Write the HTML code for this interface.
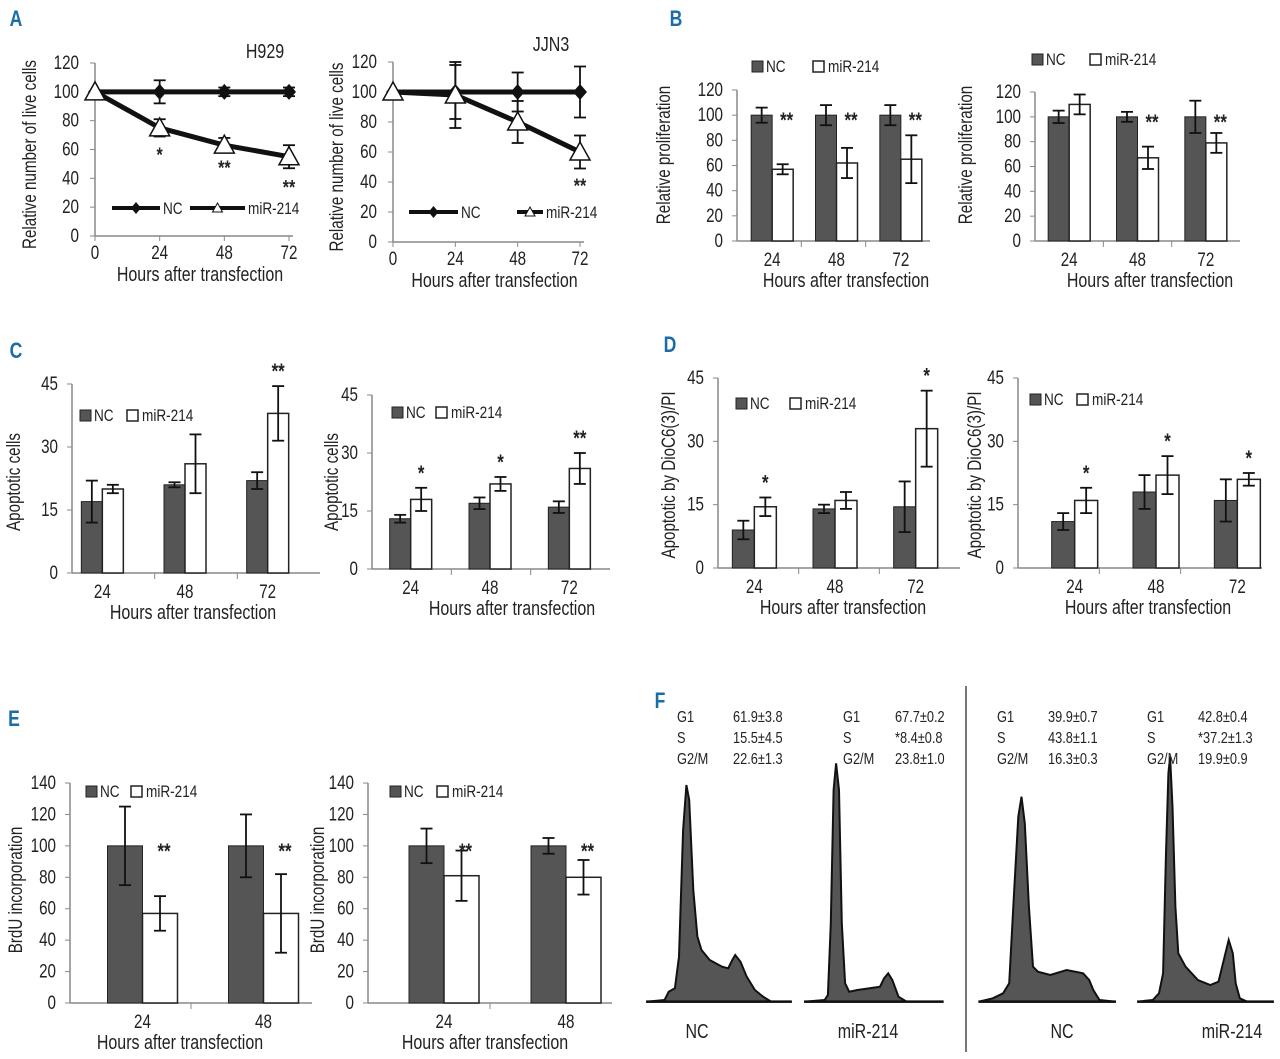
<!DOCTYPE html>
<html><head><meta charset="utf-8"><style>
html,body{margin:0;padding:0;background:#fff;width:1280px;height:1059px;overflow:hidden}
svg text{font-family:"Liberation Sans Narrow","Liberation Sans",sans-serif;fill:#222}
</style></head><body>
<svg id="fig" width="1280" height="1059" viewBox="0 0 1280 1059" xmlns="http://www.w3.org/2000/svg"></svg>
<script>
// ---- Panel A data ----
const aHours = [0, 24, 48, 72];
const aLeftNC = [100, 100, 100, 100];
const aLeftNCErr = [0, 8, 3, 3];
const aLeftMir = [100, 75, 63, 55];
const aLeftMirErr = [0, 6, 5, 8];
const aLeftStars = ["", "*", "**", "**"];
const aRightNC = [100, 100, 100, 100];
const aRightNCErr = [0, 18, 13, 17];
const aRightMir = [100, 98, 80, 60];
const aRightMirErr = [0, 22, 14, 11];
const aRightStars = ["", "", "", "**"];
const aTicks = [0, 20, 40, 60, 80, 100, 120];
// ---- Bar panels data ----
const hours3 = ["24", "48", "72"];
const hours2 = ["24", "48"];
const bLeftNC = [100, 100, 100], bLeftNCErr = [6, 8, 8];
const bLeftMir = [57, 62, 65], bLeftMirErr = [4, 12, 19];
const bLeftStars = ["**", "**", "**"];
const bRightNC = [100, 100, 100], bRightNCErr = [5, 4, 13];
const bRightMir = [110, 67, 79], bRightMirErr = [8, 9, 8];
const bRightStars = ["", "**", "**"];
const bTicks = [0, 20, 40, 60, 80, 100, 120];
const cLeftNC = [17, 21, 22], cLeftNCErr = [5, 0.6, 2];
const cLeftMir = [20, 26, 38], cLeftMirErr = [1, 7, 6.5];
const cLeftStars = ["", "", "**"];
const cRightNC = [13, 17, 16], cRightNCErr = [1, 1.5, 1.5];
const cRightMir = [18, 22, 26], cRightMirErr = [3, 1.8, 4];
const cRightStars = ["*", "*", "**"];
const dLeftNC = [9, 14, 14.5], dLeftNCErr = [2.2, 1, 6];
const dLeftMir = [14.5, 16, 33], dLeftMirErr = [2.2, 2, 9];
const dLeftStars = ["*", "", "*"];
const dRightNC = [11, 18, 16], dRightNCErr = [2, 4, 5];
const dRightMir = [16, 22, 21], dRightMirErr = [3, 4.5, 1.5];
const dRightStars = ["*", "*", "*"];
const cdTicks = [0, 15, 30, 45];
const eLeftNC = [100, 100], eLeftNCErr = [25, 20];
const eLeftMir = [57, 57], eLeftMirErr = [11, 25];
const eLeftStars = ["**", "**"];
const eRightNC = [100, 100], eRightNCErr = [11, 5];
const eRightMir = [81, 80], eRightMirErr = [16, 11];
const eRightStars = ["**", "**"];
const eTicks = [0, 20, 40, 60, 80, 100, 120, 140];

const svg = document.getElementById('fig');
const NS = 'http://www.w3.org/2000/svg';
const SX = 0.8;
function el(tag, attrs, parent, text) {
  const e = document.createElementNS(NS, tag);
  for (const k in attrs) e.setAttribute(k, attrs[k]);
  if (text !== undefined) e.textContent = text;
  (parent || svg).appendChild(e);
  return e;
}
function txt(x, y, s, size, anchor, parent, extra, rot) {
  const a = {x: 0, y: 0, 'font-size': size, 'text-anchor': anchor || 'middle'};
  a.transform = 'translate(' + x + ' ' + y + ')' + (rot ? ' rotate(' + rot + ')' : '') + ' scale(' + SX + ' 1)';
  if (extra) for (const k in extra) a[k] = extra[k];
  return el('text', a, parent, s);
}
function ylab(x, y, s, g) {
  const t = txt(x, y, s, 19, 'middle', g, null, -90);
  
  
}
function errBar(x, yv, ye, ys, g, cap) {
  const top = ys(yv + ye), bot = ys(Math.max(0, yv - ye));
  el('line', {x1: x, y1: top, x2: x, y2: bot, stroke: '#111', 'stroke-width': 1.8}, g);
  el('line', {x1: x - cap, y1: top, x2: x + cap, y2: top, stroke: '#111', 'stroke-width': 1.8}, g);
  el('line', {x1: x - cap, y1: bot, x2: x + cap, y2: bot, stroke: '#111', 'stroke-width': 1.8}, g);
}
[['A',16,26],['B',676,26],['C',16,358],['D',670,352],['E',14,726],['F',660,708]].forEach(p => {
  const t = txt(p[1], p[2], p[0], 22, 'middle', svg, {'font-weight': 'bold', style: 'fill:#1a6ea8'});
  
  
});

function lineChart(c) {
  const g = el('g', {});
  
  
  const xs = v => c.x0 + v / 72 * (c.x1 - c.x0);
  const ys = v => c.y0 - v / 120 * (c.y0 - c.y1);
  el('line', {x1: c.x0, y1: c.y1, x2: c.x0, y2: c.y0, stroke: '#888', 'stroke-width': 1.5}, g);
  el('line', {x1: c.x0, y1: c.y0, x2: c.x1 + 4, y2: c.y0, stroke: '#888', 'stroke-width': 1.5}, g);
  aTicks.forEach(t => {
    el('line', {x1: c.x0 - 5, y1: ys(t), x2: c.x0, y2: ys(t), stroke: '#888'}, g);
    txt(c.x0 - 16, ys(t) + 6, String(t), 19, 'end', g);
  });
  aHours.forEach(h => {
    el('line', {x1: xs(h), y1: c.y0, x2: xs(h), y2: c.y0 + 5, stroke: '#888'}, g);
    txt(xs(h), c.y0 + 23, String(h), 19, 'middle', g);
  });
  const ptsN = aHours.map((h, i) => xs(h) + ',' + ys(c.nc[i])).join(' ');
  const ptsM = aHours.map((h, i) => xs(h) + ',' + ys(c.mir[i])).join(' ');
  const ln = el('polyline', {points: ptsN, fill: 'none', stroke: '#111', 'stroke-width': 5}, g);
   
  const lm = el('polyline', {points: ptsM, fill: 'none', stroke: '#111', 'stroke-width': 5}, g);
   
  aHours.forEach((h, i) => {
    if (c.ncErr[i]) errBar(xs(h), c.nc[i], c.ncErr[i], ys, g, 6);
    if (c.mirErr[i]) errBar(xs(h), c.mir[i], c.mirErr[i], ys, g, 6);
    const x = xs(h), y = ys(c.nc[i]);
    const d = el('polygon', {points: (x-7)+','+y+' '+x+','+(y-8)+' '+(x+7)+','+y+' '+x+','+(y+8), fill: '#111'}, g);
     
    const ym = ys(c.mir[i]);
    const tr = el('polygon', {points: (x-10)+','+(ym+8)+' '+x+','+(ym-10)+' '+(x+10)+','+(ym+8), fill: '#fff', stroke: '#111', 'stroke-width': 1.5}, g);
     
    if (c.stars[i]) txt(x, ys(c.mir[i] - c.mirErr[i]) + c.starOff[i], c.stars[i], 20, 'middle', g, {'font-weight': 'bold'});
  });
  const lg = el('g', {}, g);
   
  const L = c.leg;
  el('line', {x1: L[0], y1: L[4], x2: L[1], y2: L[4], stroke: '#111', 'stroke-width': 4}, lg);
  const mx = (L[0] + L[1]) / 2;
  el('polygon', {points: (mx-5)+','+L[4]+' '+mx+','+(L[4]-6)+' '+(mx+5)+','+L[4]+' '+mx+','+(L[4]+6), fill: '#111'}, lg);
  txt(L[1] + 3, L[4] + 6, 'NC', 17, 'start', lg);
  el('line', {x1: L[2], y1: L[4], x2: L[3], y2: L[4], stroke: '#111', 'stroke-width': 4}, lg);
  const mx2 = (L[2] + L[3]) / 2;
  el('polygon', {points: (mx2-5)+','+(L[4]+4)+' '+mx2+','+(L[4]-5)+' '+(mx2+5)+','+(L[4]+4), fill: '#fff', stroke: '#111'}, lg);
  txt(L[3] + 3, L[4] + 6, 'miR-214', 17, 'start', lg);
  txt(c.title[0], c.title[1], c.title[2], 20, 'middle', g);
  ylab(c.yl, (c.y0 + c.y1) / 2 + 5, 'Relative number of live cells', g);
  txt((c.x0 + c.x1) / 2 + 8, c.y0 + 45, 'Hours after transfection', 20, 'middle', g);
}
lineChart({name: 'chart-a-h929', x0: 95, x1: 289, y0: 236, y1: 63, nc: aLeftNC, ncErr: aLeftNCErr, mir: aLeftMir, mirErr: aLeftMirErr, stars: aLeftStars, starOff: [0, 25, 22, 26], leg: [112, 160, 190, 245, 208], title: [265, 58, 'H929'], yl: 36});
lineChart({name: 'chart-a-jjn3', x0: 393, x1: 580, y0: 242, y1: 62, nc: aRightNC, ncErr: aRightNCErr, mir: aRightMir, mirErr: aRightMirErr, stars: aRightStars, starOff: [0, 0, 0, 24], leg: [409, 458, 517, 543, 212], title: [551, 51, 'JJN3'], yl: 343});

function barChart(c) {
  const g = el('g', {});
  
  
  const ys = v => c.y0 - v / c.max * (c.y0 - c.y1);
  el('line', {x1: c.ax, y1: c.y1, x2: c.ax, y2: c.y0, stroke: '#888', 'stroke-width': 1.5}, g);
  el('line', {x1: c.ax, y1: c.y0, x2: c.axEnd, y2: c.y0, stroke: '#888', 'stroke-width': 1.5}, g);
  c.ticks.forEach(t => {
    el('line', {x1: c.ax - 5, y1: ys(t), x2: c.ax, y2: ys(t), stroke: '#888'}, g);
    txt(c.ax - 14, ys(t) + 6, String(t), 19, 'end', g);
  });
  const n = c.cats.length, gw = (c.axEnd - c.ax) / n;
  c.cats.forEach((cat, i) => {
    const cx = c.ax + gw * (i + 0.5) + c.shift;
    if (i > 0) el('line', {x1: c.ax + gw * i, y1: c.y0, x2: c.ax + gw * i, y2: c.y0 + 6, stroke: '#888'}, g);
    txt(cx, c.y0 + 25, cat, 19, 'middle', g);
    const b1 = el('rect', {x: cx - c.bw, y: ys(c.nc[i]), width: c.bw, height: c.y0 - ys(c.nc[i]), fill: '#555', stroke: '#222', 'stroke-width': 1}, g);
     
    const b2 = el('rect', {x: cx, y: ys(c.mir[i]), width: c.bw, height: c.y0 - ys(c.mir[i]), fill: '#fff', stroke: '#222', 'stroke-width': 1.5}, g);
     
    errBar(cx - c.bw / 2, c.nc[i], c.ncErr[i], ys, g, 6);
    errBar(cx + c.bw / 2, c.mir[i], c.mirErr[i], ys, g, 6);
    if (c.stars[i]) {
      const sy = c.starMode === 'side' ? ys(c.nc[i]) + 12 : ys(c.mir[i] + c.mirErr[i]) - 8;
      const sx = c.starMode === 'side' ? cx + c.bw / 2 + 4 : cx + c.bw / 2;
      txt(sx, sy, c.stars[i], 21, 'middle', g, {'font-weight': 'bold'});
    }
  });
  const lg = el('g', {}, g);
   
  el('rect', {x: c.leg[0], y: c.leg[2] - 6, width: 11, height: 11, fill: '#555', stroke: '#222'}, lg);
  txt(c.leg[0] + 14, c.leg[2] + 5, 'NC', 17, 'start', lg);
  el('rect', {x: c.leg[1], y: c.leg[2] - 6, width: 11, height: 11, fill: '#fff', stroke: '#222', 'stroke-width': 1.5}, lg);
  txt(c.leg[1] + 15, c.leg[2] + 5, 'miR-214', 17, 'start', lg);
  ylab(c.yl, c.ylY, c.ytitle, g);
  txt(c.xtX, c.y0 + 46, 'Hours after transfection', 20, 'middle', g);
}
const B = [
 {name:'chart-b-left', ax:737, axEnd:930, y0:241, y1:90, max:120, ticks:bTicks, cats:hours3, shift:3, bw:21, nc:bLeftNC, ncErr:bLeftNCErr, mir:bLeftMir, mirErr:bLeftMirErr, stars:bLeftStars, starMode:'side', leg:[752,813,67], yl:670, ylY:155, ytitle:'Relative proliferation', xtX:846},
 {name:'chart-b-right', ax:1035, axEnd:1240, y0:241, y1:92, max:120, ticks:bTicks, cats:hours3, shift:0, bw:21, nc:bRightNC, ncErr:bRightNCErr, mir:bRightMir, mirErr:bRightMirErr, stars:bRightStars, starMode:'side', leg:[1032,1090,60], yl:972, ylY:155, ytitle:'Relative proliferation', xtX:1150},
 {name:'chart-c-left', ax:72, axEnd:320, y0:573, y1:384, max:45, ticks:cdTicks, cats:hours3, shift:-11, bw:21, nc:cLeftNC, ncErr:cLeftNCErr, mir:cLeftMir, mirErr:cLeftMirErr, stars:cLeftStars, starMode:'top', leg:[80,127,416], yl:20, ylY:482, ytitle:'Apoptotic cells', xtX:193},
 {name:'chart-c-right', ax:372, axEnd:610, y0:569, y1:395, max:45, ticks:cdTicks, cats:hours3, shift:-1, bw:21, nc:cRightNC, ncErr:cRightNCErr, mir:cRightMir, mirErr:cRightMirErr, stars:cRightStars, starMode:'top', leg:[392,436,413], yl:338, ylY:482, ytitle:'Apoptotic cells', xtX:512},
 {name:'chart-d-left', ax:718, axEnd:960, y0:568, y1:378, max:45, ticks:cdTicks, cats:hours3, shift:-4, bw:22, nc:dLeftNC, ncErr:dLeftNCErr, mir:dLeftMir, mirErr:dLeftMirErr, stars:dLeftStars, starMode:'top', leg:[736,790,404], yl:675, ylY:475, ytitle:'Apoptotic by DioC6(3)/PI', xtX:843},
 {name:'chart-d-right', ax:1018, axEnd:1262, y0:568, y1:378, max:45, ticks:cdTicks, cats:hours3, shift:16, bw:23, nc:dRightNC, ncErr:dRightNCErr, mir:dRightMir, mirErr:dRightMirErr, stars:dRightStars, starMode:'top', leg:[1030,1077,400], yl:981, ylY:475, ytitle:'Apoptotic by DioC6(3)/PI', xtX:1148},
 {name:'chart-e-left', ax:70, axEnd:312, y0:1003, y1:783, max:140, ticks:eTicks, cats:hours2, shift:12, bw:35, nc:eLeftNC, ncErr:eLeftNCErr, mir:eLeftMir, mirErr:eLeftMirErr, stars:eLeftStars, starMode:'side', leg:[86,131,792], yl:22, ylY:890, ytitle:'BrdU incorporation', xtX:180},
 {name:'chart-e-right', ax:368, axEnd:612, y0:1003, y1:783, max:140, ticks:eTicks, cats:hours2, shift:15, bw:35, nc:eRightNC, ncErr:eRightNCErr, mir:eRightMir, mirErr:eRightMirErr, stars:eRightStars, starMode:'side', leg:[390,437,792], yl:324, ylY:890, ytitle:'BrdU incorporation', xtX:485}
];
B.forEach(barChart);

// ---- Panel F histograms ----
const fScale = z => [640 + z[0] / 2.4375, 690 + z[1] / 3];
const hists = [
 [[15,935],[60,930],[70,905],[85,895],[95,800],[105,420],[113,285],[120,330],[130,600],[140,740],[150,780],[170,810],[200,830],[215,835],[225,810],[232,795],[245,815],[260,860],[280,900],[300,920],[320,935],[370,935]],
 [[400,935],[450,930],[458,915],[465,700],[472,300],[478,220],[485,300],[492,700],[500,880],[510,905],[530,900],[560,895],[585,890],[595,865],[605,850],[615,870],[630,920],[650,935],[740,935]],
 [[825,935],[860,925],[885,910],[900,880],[912,600],[922,380],[930,320],[938,400],[948,650],[958,830],[970,845],[1000,855],[1040,840],[1080,850],[1095,870],[1105,900],[1120,930],[1160,935]],
 [[1212,935],[1250,930],[1265,910],[1275,850],[1282,500],[1288,250],[1292,200],[1298,350],[1305,650],[1312,790],[1330,830],[1360,870],[1390,885],[1410,875],[1425,800],[1435,750],[1445,790],[1452,880],[1462,925],[1480,935],[1545,935]]
];
const fg = el('g', {});
 
hists.forEach((h, i) => {
  const pts = h.map(fScale).map(p => p[0].toFixed(1) + ',' + p[1].toFixed(1)).join(' ');
  const p = el('polygon', {points: pts, fill: '#555', stroke: '#111', 'stroke-width': 2}, fg);
   
  const a = fScale(h[0]), b = fScale(h[h.length - 1]);
  el('line', {x1: a[0], y1: a[1], x2: b[0], y2: b[1], stroke: '#111', 'stroke-width': 2.5}, fg);
});
el('line', {x1: 966, y1: 686, x2: 966, y2: 1052, stroke: '#777', 'stroke-width': 2}, fg);
const fStats = [
 [677, 733, ['G1','S','G2/M'], ['61.9±3.8','15.5±4.5','22.6±1.3']],
 [843, 895, ['G1','S','G2/M'], ['67.7±0.2','*8.4±0.8','23.8±1.0']],
 [997, 1048, ['G1','S','G2/M'], ['39.9±0.7','43.8±1.1','16.3±0.3']],
 [1147, 1198, ['G1','S','G2/M'], ['42.8±0.4','*37.2±1.3','19.9±0.9']]
];
fStats.forEach(s => {
  [0,1,2].forEach(r => {
    txt(s[0], 722 + r * 21, s[2][r], 16, 'start', fg);
    txt(s[1], 722 + r * 21, s[3][r], 16, 'start', fg);
  });
});
[[697,'NC'],[868,'miR-214'],[1062,'NC'],[1232,'miR-214']].forEach(l => txt(l[0], 1038, l[1], 20, 'middle', fg));
</script>
</body></html>
